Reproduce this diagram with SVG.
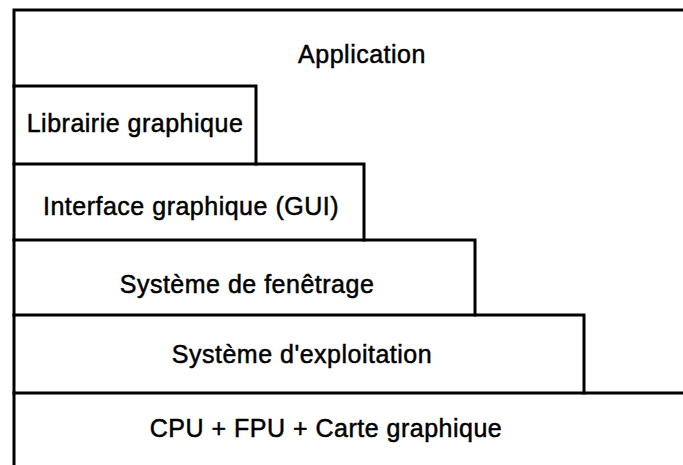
<svg xmlns="http://www.w3.org/2000/svg" width="683" height="465" viewBox="0 0 683 465">
<style>
  .ln { fill: none; stroke: #000; stroke-width: 3; stroke-linecap: square; stroke-linejoin: miter; }
  .lb { font-family: "Liberation Sans", Arial, Helvetica, sans-serif; font-size: 25px; letter-spacing: 0.5px; fill: #000; stroke: #000; stroke-width: 0.5; text-anchor: middle; }
</style>
<rect width="683" height="465" fill="#fff"/>
<g id="application">
  <path class="ln" d="M14,86 V10 H683"/>
  <text class="lb" x="362" y="63">Application</text>
</g>
<g id="librairie">
  <path class="ln" d="M14,164 V86 H256 V164"/>
  <text class="lb" x="135" y="132">Librairie graphique</text>
</g>
<g id="interface">
  <path class="ln" d="M14,240 V164 H364 V240"/>
  <text class="lb" x="191" y="215">Interface graphique (GUI)</text>
</g>
<g id="fenetrage">
  <path class="ln" d="M14,315 V240 H475 V315"/>
  <text class="lb" x="247" y="293">Système de fenêtrage</text>
</g>
<g id="exploitation">
  <path class="ln" d="M14,393 V315 H584 V393"/>
  <text class="lb" x="302" y="363">Système d'exploitation</text>
</g>
<g id="materiel">
  <path class="ln" d="M14,466 V393 H683"/>
  <text class="lb" x="326" y="437">CPU + FPU + Carte graphique</text>
</g>
<g id="connectors"></g>
</svg>
